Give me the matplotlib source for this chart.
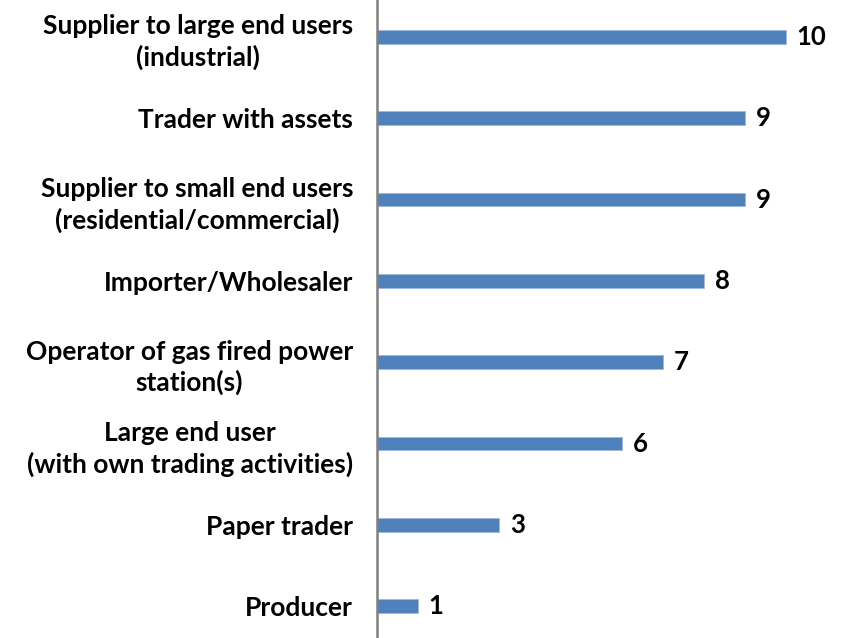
import matplotlib
matplotlib.use('Agg')
import matplotlib.pyplot as plt

categories = ['Producer',
              'Paper trader',
              'Large end user\n(with own trading activities)',
              'Operator of gas fired power\nstation(s)',
              'Importer/Wholesaler',
              'Supplier to small end users\n(residential/commercial)',
              'Trader with assets',
              'Supplier to large end users\n(industrial)']
counts = [1, 3, 6, 7, 8, 9, 9, 10]

plt.rcParams['font.family'] = ['Lato', 'DejaVu Sans']

fig = plt.figure(figsize=(8.43, 6.38), dpi=100)
ax = fig.add_axes([0.447, -0.014, 0.553, 1.02])

ypos = range(len(categories))
ax.barh(ypos, counts, height=0.17, color='#4F81BD', edgecolor='#9DB8DB', linewidth=0.6)
for y, v in zip(ypos, counts):
    ax.text(v + 0.27, y, str(v), va='center', ha='left', fontsize=18.5, fontweight='bold')

ax.set_xlim(0, 11.4)
ax.set_ylim(-0.5, len(categories) - 0.5)
ax.set_yticks(list(ypos))
ax.set_yticklabels(categories, fontsize=19, fontweight='bold', multialignment='center',
                   linespacing=1.3)
ax.tick_params(axis='y', length=0, pad=17)
ax.set_xticks([])
for s in ['top', 'right', 'bottom']:
    ax.spines[s].set_visible(False)
ax.spines['left'].set_color('#808080')
ax.spines['left'].set_linewidth(1.8)

fig.savefig('out.png', dpi=100)
